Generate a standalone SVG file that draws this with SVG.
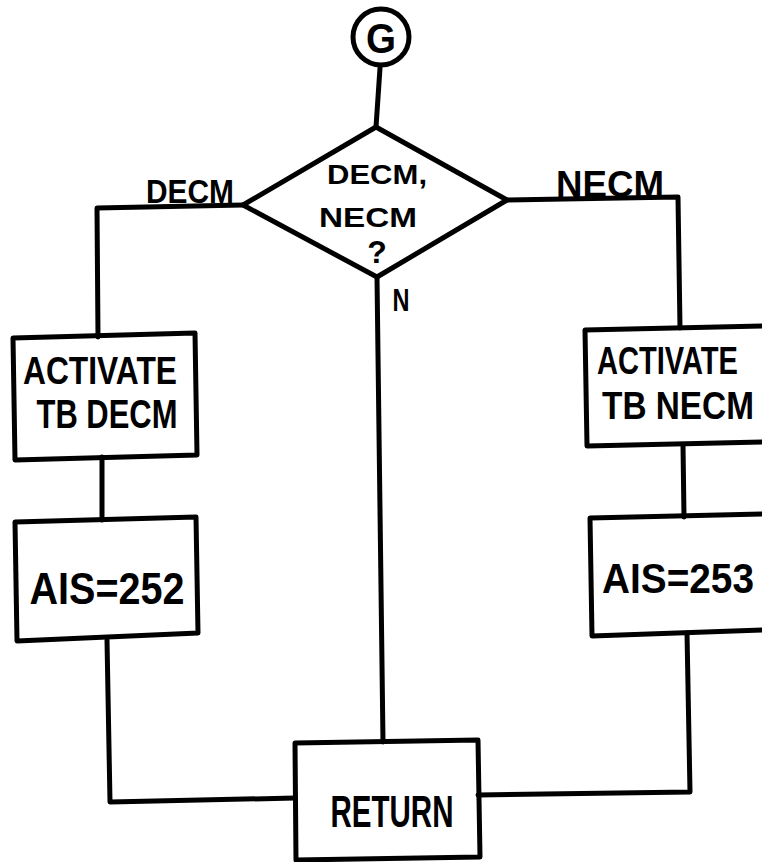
<svg xmlns="http://www.w3.org/2000/svg" width="762" height="862" viewBox="0 0 762 862">
  <style>
    .shape { fill: none; stroke: #000; stroke-width: 5; stroke-linejoin: round; stroke-linecap: round; }
    .wire { fill: none; stroke: #000; stroke-width: 5; stroke-linejoin: round; stroke-linecap: round; }
    .lbl { font-family: "Liberation Sans", Arial, sans-serif; font-weight: bold; fill: #000; }
  </style>
  <rect width="762" height="862" fill="#fff"/>

  <!-- connectors -->
  <g id="connectors">
    <polyline class="wire" points="380,68 376,127"/>
    <polyline class="wire" points="243,205 97,208 98,337"/>
    <polyline class="wire" points="102,457 102,520"/>
    <polyline class="wire" points="107,640 110,802 295,798"/>
    <polyline class="wire" points="507,200 678,197 680,328"/>
    <polyline class="wire" points="683,445 684,517"/>
    <polyline class="wire" points="687,633 690,792 478,795"/>
    <polyline class="wire" points="377,277 383,742"/>
  </g>

  <!-- entry connector G -->
  <g id="start">
    <circle class="shape" cx="381" cy="37" r="28" stroke-width="6"/>
    <text class="lbl" x="381" y="53" font-size="42" text-anchor="middle" textLength="30" lengthAdjust="spacingAndGlyphs">G</text>
  </g>

  <!-- decision -->
  <g id="decision">
    <polygon class="shape" points="376,127 507,200 377,277 243,205"/>
    <text class="lbl" x="377" y="184" font-size="27" text-anchor="middle" textLength="100" lengthAdjust="spacingAndGlyphs">DECM,</text>
    <text class="lbl" x="368" y="227" font-size="28" text-anchor="middle" textLength="98" lengthAdjust="spacingAndGlyphs">NECM</text>
    <text class="lbl" x="377" y="263" font-size="32" text-anchor="middle">?</text>
  </g>

  <!-- branch labels -->
  <g id="branch-labels">
    <text class="lbl" x="190" y="203" font-size="34" text-anchor="middle" textLength="88" lengthAdjust="spacingAndGlyphs">DECM</text>
    <text class="lbl" x="610" y="197" font-size="36" text-anchor="middle" textLength="108" lengthAdjust="spacingAndGlyphs">NECM</text>
    <text class="lbl" x="401" y="311" font-size="31" text-anchor="middle" textLength="17" lengthAdjust="spacingAndGlyphs">N</text>
  </g>

  <!-- DECM branch -->
  <g id="activate-decm">
    <polygon class="shape" points="13,338 195,333 197,455 15,460"/>
    <text class="lbl" x="100" y="384" font-size="39" text-anchor="middle" textLength="154" lengthAdjust="spacingAndGlyphs">ACTIVATE</text>
    <text class="lbl" x="107" y="428" font-size="40" text-anchor="middle" textLength="141" lengthAdjust="spacingAndGlyphs">TB DECM</text>
  </g>
  <g id="ais-252">
    <polygon class="shape" points="15,522 196,517 198,633 17,641"/>
    <text class="lbl" x="107" y="604" font-size="44" text-anchor="middle" textLength="155" lengthAdjust="spacingAndGlyphs">AIS=252</text>
  </g>

  <!-- NECM branch: boxes run off the right margin -->
  <g id="activate-necm">
    <polyline class="shape" points="762,326 585,330 587,446 762,442"/>
    <text class="lbl" x="597" y="374" font-size="39" textLength="141" lengthAdjust="spacingAndGlyphs">ACTIVATE</text>
    <text class="lbl" x="602" y="419" font-size="39" textLength="152" lengthAdjust="spacingAndGlyphs">TB NECM</text>
  </g>
  <g id="ais-253">
    <polyline class="shape" points="762,514 590,518 592,636 762,630"/>
    <text class="lbl" x="602" y="593" font-size="43" textLength="152" lengthAdjust="spacingAndGlyphs">AIS=253</text>
  </g>

  <!-- exit -->
  <g id="return">
    <polygon class="shape" points="295,743 478,740 480,857 296,860"/>
    <text class="lbl" x="392" y="827" font-size="44" text-anchor="middle" textLength="123" lengthAdjust="spacingAndGlyphs">RETURN</text>
  </g>
</svg>
